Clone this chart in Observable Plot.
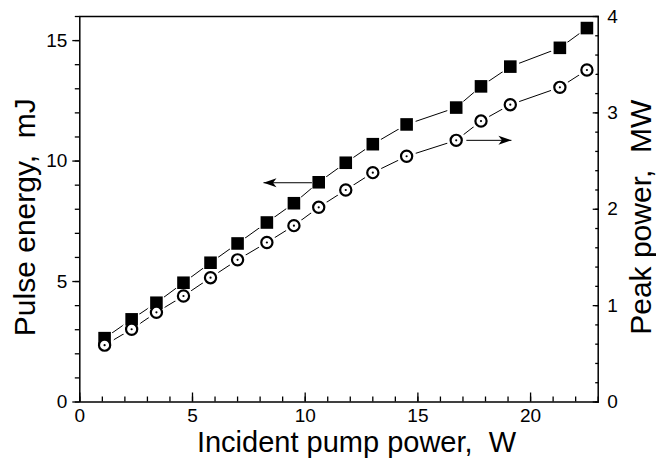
<!DOCTYPE html>
<html>
<head>
<meta charset="utf-8">
<script src="https://cdn.jsdelivr.net/npm/d3@7"></script>
<script src="https://cdn.jsdelivr.net/npm/@observablehq/plot@0.6"></script>
<style>
  html, body { margin: 0; padding: 0; background: #fff; }
  #chart svg { display: block; }
</style>
</head>
<body>
<div id="chart"></div>
<script>
// Incident pump power, W
const power = [1.1, 2.3, 3.4, 4.6, 5.8, 7.0, 8.3, 9.5, 10.6, 11.8, 13.0, 14.5, 16.7, 17.8, 19.1, 21.3, 22.5];
// Pulse energy, mJ (left axis, filled squares)
const energy = [2.65, 3.43, 4.12, 4.95, 5.78, 6.58, 7.45, 8.25, 9.12, 9.93, 10.7, 11.52, 12.22, 13.1, 13.92, 14.7, 15.52];
// Peak power, MW (right axis, dotted circles)
const peak = [0.59, 0.755, 0.93, 1.10, 1.29, 1.475, 1.655, 1.83, 2.02, 2.2, 2.38, 2.55, 2.715, 2.915, 3.085, 3.265, 3.445];

const xTicks = [0, 5, 10, 15, 20];
const xMinor = d3.range(0, 24, 1);
const leftTicks = [0, 5, 10, 15];
const leftMinor = d3.range(0, 17, 1);
const rightTicks = [0, 1, 2, 3, 4];
const rightMinor = d3.range(0, 4.01, 0.2);

// Arrows: left arrow points to energy axis, right arrow to peak-power axis
const leftArrow = {x1: 10.3, x2: 8.15, y: 9.1};      // y in mJ
const rightArrow = {x1: 17.15, x2: 19.15, y: 2.715}; // y in MW

const xLabel = "Incident pump power,  W";
const yLeftLabel = "Pulse energy,  mJ";
const yRightLabel = "Peak power,  MW";

const ratio = 16 / 4; // right axis (MW) to left axis (mJ) mapping

const rows = power.map((p, i) => ({power: p, energy: energy[i], peak: peak[i] * ratio}));

const headRight = {draw(ctx) { ctx.moveTo(0, 0); ctx.lineTo(-13, -4.5); ctx.lineTo(-9.5, 0); ctx.lineTo(-13, 4.5); ctx.closePath(); }};
const headLeft = {draw(ctx) { ctx.moveTo(0, 0); ctx.lineTo(13, -4.5); ctx.lineTo(9.5, 0); ctx.lineTo(13, 4.5); ctx.closePath(); }};

const arrows = [
  {x1: leftArrow.x1, x2: leftArrow.x2, y: leftArrow.y},
  {x1: rightArrow.x1, x2: rightArrow.x2, y: rightArrow.y * ratio}
];

const font = "'Liberation Sans', Arial, Helvetica, sans-serif";

const chart = Plot.plot({
  width: 656,
  height: 458,
  marginLeft: 79.3,
  marginRight: 58.3,
  marginTop: 16,
  marginBottom: 56.5,
  style: {fontFamily: font, background: "#fff", color: "#000"},
  x: {domain: [0, 23]},
  y: {domain: [0, 16]},
  marks: [
    // x axis
    Plot.axisX({anchor: "bottom", ticks: xTicks, tickSize: 0, tickPadding: 6, fontSize: 19, label: null}),
    Plot.axisX({anchor: "bottom", ticks: xTicks, tickSize: -9, tickFormat: () => "", label: null, strokeWidth: 1.3}),
    Plot.axisX({anchor: "bottom", ticks: xMinor, tickSize: -5, tickFormat: () => "", label: null, strokeWidth: 1.3}),
    // left axis
    Plot.axisY({anchor: "left", ticks: leftTicks, tickSize: 7, tickPadding: 5.5, fontSize: 19, label: null, strokeWidth: 1.3}),
    Plot.axisY({anchor: "left", ticks: leftMinor, tickSize: 4.5, tickFormat: () => "", label: null, strokeWidth: 1.3}),
    // right axis
    Plot.axisY({anchor: "right", ticks: rightTicks.map(d => d * ratio), tickSize: 0, tickPadding: 9, tickFormat: d => String(Math.round(d / ratio)), fontSize: 19, label: null}),
    Plot.axisY({anchor: "right", ticks: rightTicks.map(d => d * ratio), tickSize: -6, tickFormat: () => "", label: null, strokeWidth: 1.3}),
    Plot.axisY({anchor: "right", ticks: rightMinor.map(d => d * ratio), tickSize: -3.5, tickFormat: () => "", label: null, strokeWidth: 1.3}),
    Plot.frame({stroke: "#000", strokeWidth: 1.5}),
    // lines
    Plot.line(rows, {x: "power", y: "energy", stroke: "#000", strokeWidth: 1}),
    Plot.line(rows, {x: "power", y: "peak", stroke: "#000", strokeWidth: 1}),
    // gaps around markers
    Plot.dot(rows, {x: "power", y: "energy", r: 9.5, fill: "#fff"}),
    Plot.dot(rows, {x: "power", y: "peak", r: 9.5, fill: "#fff"}),
    // markers
    Plot.dot(rows, {x: "power", y: "energy", symbol: "square", r: 7.1, fill: "#000"}),
    Plot.dot(rows, {x: "power", y: "peak", r: 5.6, fill: "#fff", stroke: "#000", strokeWidth: 2.2}),
    Plot.dot(rows, {x: "power", y: "peak", r: 1.1, fill: "#000"}),
    // arrows
    Plot.link(arrows, {x1: "x1", x2: "x2", y1: "y", y2: "y", stroke: "#000", strokeWidth: 1}),
    Plot.dot([arrows[0]], {x: "x2", y: "y", symbol: headLeft, fill: "#000"}),
    Plot.dot([arrows[1]], {x: "x2", y: "y", symbol: headRight, fill: "#000"}),
    // axis titles
    Plot.text([xLabel], {frameAnchor: "bottom", text: d => d, textAnchor: "middle", dx: 17.5, dy: 50, lineAnchor: "bottom", fontSize: 29, fill: "#000"}),
    Plot.text([yLeftLabel], {frameAnchor: "left", text: d => d, textAnchor: "middle", rotate: -90, dx: -45, dy: 8, lineAnchor: "bottom", fontSize: 30, fill: "#000"}),
    Plot.text([yRightLabel], {frameAnchor: "right", text: d => d, textAnchor: "middle", rotate: -90, dx: 53, dy: 8, lineAnchor: "bottom", fontSize: 30, fill: "#000"})
  ]
});

document.getElementById("chart").appendChild(chart);
</script>
</body>
</html>
